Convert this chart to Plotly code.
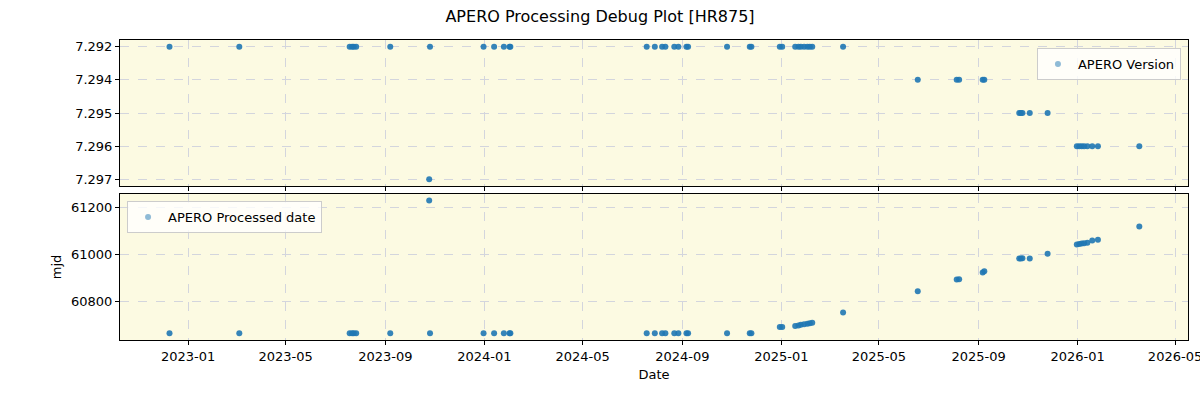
import plotly.graph_objects as go
from plotly.subplots import make_subplots

# Observation dates
dates = [
    "2022-12-09", "2023-03-05", "2023-07-19", "2023-07-22", "2023-07-24", "2023-07-27",
    "2023-09-07", "2023-10-25", "2023-10-26", "2023-12-31", "2024-01-13", "2024-01-25",
    "2024-02-01", "2024-02-02", "2024-07-19", "2024-07-29", "2024-08-07", "2024-08-11",
    "2024-08-22", "2024-08-27", "2024-09-06", "2024-09-08", "2024-10-26", "2024-11-23",
    "2024-11-25", "2024-12-30", "2025-01-02", "2025-01-18", "2025-01-22", "2025-01-25",
    "2025-01-29", "2025-02-02", "2025-02-05", "2025-02-08", "2025-03-18", "2025-06-18",
    "2025-08-05", "2025-08-08", "2025-09-06", "2025-09-08", "2025-10-21", "2025-10-23",
    "2025-10-25", "2025-11-03", "2025-11-25", "2025-12-31", "2026-01-03", "2026-01-06",
    "2026-01-09", "2026-01-13", "2026-01-19", "2026-01-26", "2026-03-18",
]

versions = [
    "7.292", "7.292", "7.292", "7.292", "7.292", "7.292",
    "7.292", "7.297", "7.292", "7.292", "7.292", "7.292",
    "7.292", "7.292", "7.292", "7.292", "7.292", "7.292",
    "7.292", "7.292", "7.292", "7.292", "7.292", "7.292",
    "7.292", "7.292", "7.292", "7.292", "7.292", "7.292",
    "7.292", "7.292", "7.292", "7.292", "7.292", "7.294",
    "7.294", "7.294", "7.294", "7.294", "7.295", "7.295",
    "7.295", "7.295", "7.295", "7.296", "7.296", "7.296",
    "7.296", "7.296", "7.296", "7.296", "7.296",
]

processed_mjd = [
    60664, 60664, 60664, 60664, 60664, 60664,
    60664, 61231, 60664, 60664, 60664, 60664,
    60664, 60664, 60664, 60664, 60664, 60664,
    60664, 60664, 60664, 60664, 60664, 60664,
    60664, 60691, 60691, 60695, 60697, 60700,
    60702, 60704, 60707, 60709, 60753, 60843,
    60894, 60895, 60923, 60929, 60983, 60983,
    60984, 60983, 61004, 61043, 61045, 61047,
    61049, 61051, 61060, 61064, 61120,
]

version_order = ["7.297", "7.296", "7.295", "7.294", "7.292"]  # bottom -> top
mjd_ticks = [60800, 61000, 61200]
x_tick_labels_format = "%Y-%m"

BLUE = "#1f77b4"
FONT = "DejaVu Sans"
GRID = "#d3d5dd"
BG = "#fcfae2"

fig = make_subplots(rows=2, cols=1, shared_xaxes=True, vertical_spacing=0.0267)

fig.add_trace(go.Scatter(x=dates, y=versions, mode="markers",
                         marker=dict(color=BLUE, size=6, opacity=0.9),
                         showlegend=False), row=1, col=1)
fig.add_trace(go.Scatter(x=[None], y=[None], mode="markers", name="APERO Version",
                         marker=dict(color=BLUE, size=6, opacity=0.5),
                         legend="legend"), row=1, col=1)

fig.add_trace(go.Scatter(x=dates, y=processed_mjd, mode="markers",
                         marker=dict(color=BLUE, size=6, opacity=0.9),
                         showlegend=False), row=2, col=1)
fig.add_trace(go.Scatter(x=[None], y=[None], mode="markers", name="APERO Processed date",
                         marker=dict(color=BLUE, size=6, opacity=0.5),
                         legend="legend2"), row=2, col=1)

axis_common = dict(
    showline=True, linecolor="black", linewidth=1, mirror=True,
    ticks="outside", ticklen=4, tickcolor="black",
    showgrid=True, gridcolor=GRID, griddash="dash", gridwidth=1,
    zeroline=False,
    tickfont=dict(family=FONT, size=13, color="black"),
)

xrange = ["2022-10-09", "2026-05-17"]
for r in (1, 2):
    fig.update_xaxes(range=xrange, dtick="M4", tick0="2023-01-01",
                     tickformat=x_tick_labels_format, ticklabeloverflow="allow",
                     automargin=False, **axis_common, row=r, col=1)
fig.update_xaxes(showticklabels=False, row=1, col=1)
fig.update_xaxes(title=dict(text="Date", font=dict(family=FONT, size=13, color="black"),
                            standoff=7), row=2, col=1)

fig.update_yaxes(type="category", categoryorder="array", categoryarray=version_order,
                 range=[-0.2, 4.2], automargin=False, **axis_common, row=1, col=1)
fig.update_yaxes(range=[60635, 61259], tickvals=mjd_ticks, tickformat="d",
                 automargin=False,
                 title=dict(text="mjd", font=dict(family=FONT, size=13, color="black"),
                            standoff=6),
                 **axis_common, row=2, col=1)

fig.update_layout(
    width=1200, height=400,
    margin=dict(l=120, r=12, t=40, b=60),
    paper_bgcolor="white", plot_bgcolor=BG,
    font=dict(family=FONT, size=13, color="black"),
    title=dict(text="APERO Processing Debug Plot [HR875]", x=0.5, xanchor="center",
               y=0.96, yanchor="middle", font=dict(family=FONT, size=16, color="black")),
    legend=dict(x=0.9934, y=0.9733, xanchor="right", yanchor="top",
                bgcolor="rgba(255,255,255,0.8)", bordercolor="#cccccc", borderwidth=1,
                font=dict(family=FONT, size=13, color="black")),
    legend2=dict(x=0.0066, y=0.4633, xanchor="left", yanchor="top",
                 bgcolor="rgba(255,255,255,0.8)", bordercolor="#cccccc", borderwidth=1,
                 font=dict(family=FONT, size=13, color="black")),
)

fig.write_html("out.html")
